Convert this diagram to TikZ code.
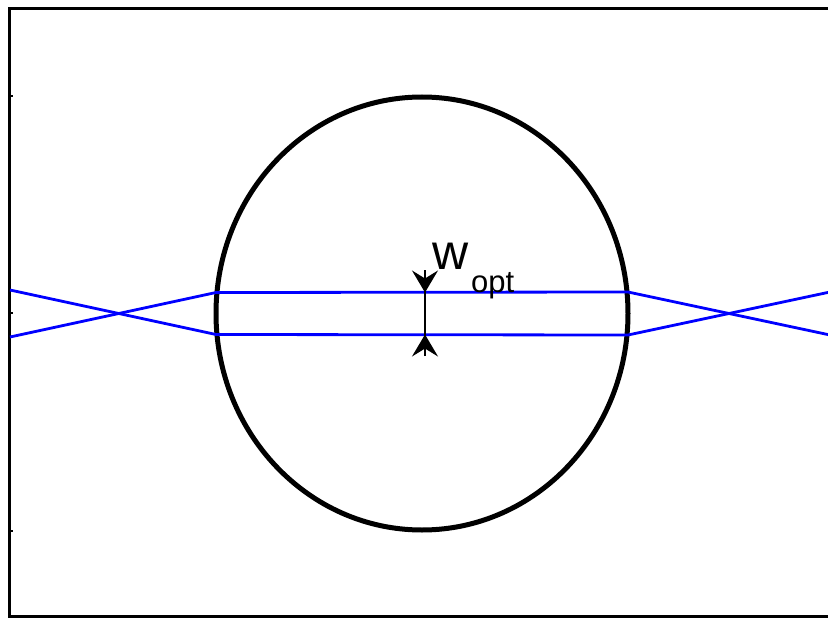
\documentclass[tikz,border=0pt]{standalone}
\usepackage{fontspec}
\setmainfont{Liberation Sans}
\usetikzlibrary{arrows.meta}
\begin{document}
\begin{tikzpicture}[x=1pt,y=-1pt,
  frameline/.style={line width=3pt,line cap=rect},
  beam/.style={blue,line width=2.8pt},
  arr/.style={line width=1.8pt,-{Stealth[length=22pt,width=26pt,inset=8pt]}}]
\useasboundingbox (0,0) rectangle (828,618);
% frame
\draw[frameline] (830,9) -- (9.5,9) -- (9.5,616.5) -- (830,616.5);
\foreach \yy in {96,313,531} \draw[line width=1.5pt] (9.5,\yy) -- (13,\yy);
% circle
\draw[line width=5pt] (422,313.5) ellipse [x radius=206, y radius=216.5];
% beams
\coordinate (a1) at (216,292.5);
\coordinate (a2) at (216,334.5);
\coordinate (b1) at (628,292);
\coordinate (b2) at (628,335);
\coordinate (l1) at (10,290);
\coordinate (l2) at (10,337);
\coordinate (r1) at (830,292);
\coordinate (r2) at (830,335);
\draw[beam] (l1) -- (a2) -- (b2) -- (r1);
\draw[beam] (l2) -- (a1) -- (b1) -- (r2);
% width arrows
\coordinate (t0) at (425,270);
\coordinate (t1) at (425,292.5);
\coordinate (u0) at (425,356);
\coordinate (u1) at (425,334.5);
\draw[line width=1.8pt] (t0) -- (u0);
\draw[arr] (t0) -- (t1);
\draw[arr] (u0) -- (u1);
\node[anchor=base west,inner sep=0pt,font=\fontsize{50}{50}\selectfont] (w) at (432,269) {w};
\node[anchor=base west,inner sep=0pt,font=\fontsize{31}{31}\selectfont] (sub) at (471,292) {opt};
\end{tikzpicture}
\end{document}
